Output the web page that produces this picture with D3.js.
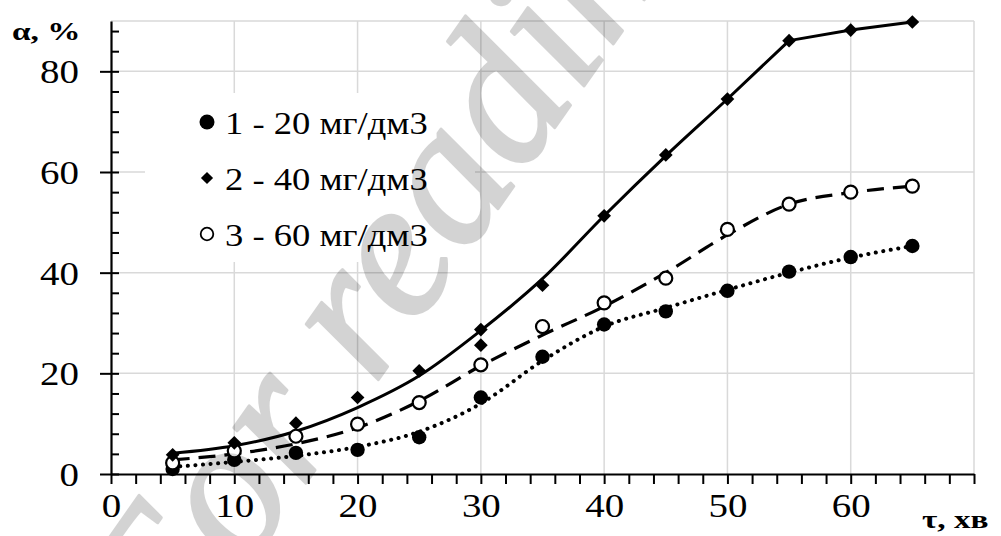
<!DOCTYPE html>
<html>
<head>
<meta charset="utf-8">
<script src="https://cdn.jsdelivr.net/npm/d3@7"></script>
<style>
  body { margin: 0; background: #fff; }
  svg { display: block; }
  text { font-family: "Liberation Serif", serif; fill: #000; }
</style>
</head>
<body>
<div id="chart"></div>
<script>
// measured points, tau in minutes, alpha in %
var tau = [5, 10, 15, 20, 25, 30, 35, 40, 45, 50, 55, 60, 65];
var alpha1 = [1.0, 2.8, 4.2, 4.8, 7.3, 15.2, 23.3, 29.7, 32.3, 36.4, 40.2, 43.1, 45.3];
var tau2 = [5, 10, 15, 20, 25, 30, 30, 35, 40, 45, 50, 55, 60, 65];
var alpha2 = [3.8, 6.2, 10.1, 15.2, 20.5, 28.7, 25.6, 37.5, 51.3, 63.4, 74.5, 86.1, 88.2, 89.8];
var alpha3 = [2.2, 4.6, 7.5, 9.9, 14.2, 21.7, 29.3, 34.0, 38.9, 48.6, 53.6, 56.0, 57.2];

// smoothed curves
var fit1 = [1.4, 2.4, 3.6, 5.4, 8.4, 14.0, 22.5, 29.3, 33.0, 36.6, 40.0, 43.0, 45.3];
var fit2 = [4.1, 5.6, 8.5, 13.2, 19.5, 28.5, 38.8, 51.3, 63.2, 74.5, 86.1, 88.2, 89.8];
var fit3 = [2.8, 4.0, 6.0, 9.2, 14.5, 21.5, 27.6, 33.3, 40.0, 47.5, 53.6, 55.9, 57.2];

var legendLabels = ["1 - 20 мг/дм3", "2 - 40 мг/дм3", "3 - 60 мг/дм3"];
var xTickLabels = [0, 10, 20, 30, 40, 50, 60];
var yTickLabels = [0, 20, 40, 60, 80];

var W = 1001, H = 536;
var margin = {top: 21, right: 27, bottom: 62, left: 111},
    width = W - margin.left - margin.right,
    height = H - margin.top - margin.bottom;

// the original text is a bit wider than it is tall
var sx = 1.18;

var svg = d3.select("#chart").append("svg")
    .attr("width", W)
    .attr("height", H);

var g = svg.append("g")
    .attr("transform", "translate(" + margin.left + "," + margin.top + ")");

var x = d3.scaleLinear().domain([0, 70]).range([0, width]);
var y = d3.scaleLinear().domain([0, 90]).range([height, 0]);

/** grid */
var gridColor = "#d9d9d9";
g.append("g").selectAll("line")
  .data(d3.range(10, 71, 10))
  .enter().append("line")
  .attr("x1", d => x(d)).attr("x2", d => x(d))
  .attr("y1", 0).attr("y2", height)
  .style("stroke", gridColor).style("stroke-width", 1.5);
g.append("g").selectAll("line")
  .data(d3.range(20, 91, 20).concat([90]))
  .enter().append("line")
  .attr("x1", 0).attr("x2", width)
  .attr("y1", d => y(d)).attr("y2", d => y(d))
  .style("stroke", gridColor).style("stroke-width", 1.5);

/** legend background hides grid */
g.append("rect")
  .attr("x", 34).attr("y", 72)
  .attr("width", 330).attr("height", 169)
  .style("fill", "#fff");

/** curves */
var pts = (xs, ys) => xs.map((d, i) => [d, ys[i]]);
var line = d3.line().x(d => x(d[0])).y(d => y(d[1]));

var curves = g.append("g").style("fill", "none").style("stroke", "#000");
curves.append("path")
  .attr("d", line.curve(d3.curveMonotoneX)(pts(tau, fit1)))
  .style("stroke-width", 4)
  .style("stroke-linecap", "round")
  .style("stroke-dasharray", "0.1,7.5");
curves.append("path")
  .attr("d", line.curve(d3.curveMonotoneX)(pts(tau, fit3)))
  .style("stroke-width", 3.2)
  .style("stroke-dasharray", "17,9");
// solid curve bends smoothly up to 55 min, then straight
curves.append("path")
  .attr("d", line.curve(d3.curveMonotoneX)(pts(tau.slice(0, 11), fit2.slice(0, 11))))
  .style("stroke-width", 3);
curves.append("path")
  .attr("d", line.curve(d3.curveLinear)(pts(tau.slice(10), fit2.slice(10))))
  .style("stroke-width", 3);

/** markers */
var diamond = d3.symbol().type(d3.symbolDiamond2);
g.append("g").selectAll("circle")
  .data(pts(tau, alpha1))
  .enter().append("circle")
  .attr("cx", d => x(d[0])).attr("cy", d => y(d[1]))
  .attr("r", 7.2)
  .style("fill", "#000");
g.append("g").selectAll("circle")
  .data(pts(tau, alpha3))
  .enter().append("circle")
  .attr("cx", d => x(d[0])).attr("cy", d => y(d[1]))
  .attr("r", 6.5)
  .style("fill", "#fff").style("stroke", "#000").style("stroke-width", 2.2);
g.append("g").selectAll("path")
  .data(pts(tau2, alpha2))
  .enter().append("path")
  .attr("d", diamond.size(120))
  .attr("transform", d => "translate(" + x(d[0]) + "," + y(d[1]) + ")")
  .style("fill", "#000");

/** axes */
var xAxis = d3.axisBottom(x)
    .tickValues(d3.range(0, 71, 2))
    .tickSize(10).tickSizeOuter(0).tickPadding(22)
    .tickFormat(d => xTickLabels.indexOf(d) > -1 ? d : "");
var gx = g.append("g")
    .attr("transform", "translate(0," + height + ")")
    .call(xAxis);

var yAxis = d3.axisLeft(y)
    .tickValues(yTickLabels)
    .tickSize(11).tickSizeOuter(0).tickPadding(21);
var gy = g.append("g").call(yAxis);

// inner minor ticks on the y axis
var gyIn = g.append("g").call(d3.axisRight(y)
    .tickValues(d3.range(0, 89, 4))
    .tickSize(8).tickSizeOuter(0).tickFormat(""));
gyIn.select(".domain").remove();

[gx, gy, gyIn].forEach(function(a) {
  a.attr("font-family", null);
  a.selectAll("line").style("stroke", "#000").style("stroke-width", 2);
  a.select(".domain").style("stroke", "#000").style("stroke-width", 2.2);
  a.selectAll("text")
    .style("font-family", "Liberation Serif")
    .style("font-size", "33px")
    .style("fill", "#000")
    .attr("transform", "scale(" + sx + ",1)");
});
gx.selectAll("text").attr("y", 20).attr("dy", "0.71em");
gy.selectAll("text").attr("x", -32 / sx).attr("dy", "0.35em");

/** axis titles */
svg.append("text")
  .attr("transform", "translate(12,40) scale(1.28,1)")
  .style("font-size", "26px").style("font-weight", "bold")
  .text("α, %");
svg.append("text")
  .attr("transform", "translate(922,528) scale(1.28,1)")
  .style("font-size", "26px").style("font-weight", "bold")
  .text("τ, хв");

/** legend */
var legend = svg.append("g").selectAll("g")
    .data(legendLabels)
    .enter().append("g")
    .attr("transform", (d, i) => "translate(207," + (122 + i * 56) + ")");
legend.append("text")
  .attr("transform", "translate(18,12) scale(" + sx + ",1)")
  .style("font-size", "31px")
  .text(d => d);
legend.filter((d, i) => i === 0).append("circle")
  .attr("r", 7.5).style("fill", "#000");
legend.filter((d, i) => i === 1).append("path")
  .attr("d", diamond.size(95)).style("fill", "#000");
legend.filter((d, i) => i === 2).append("circle")
  .attr("r", 6.3).style("fill", "#fff")
  .style("stroke", "#000").style("stroke-width", 1.8);

/** watermark, semi transparent over everything */
svg.append("text")
  .attr("transform", "translate(175,670) rotate(-55)")
  .style("font-family", "Liberation Serif")
  .style("font-size", "198px")
  .style("font-style", "italic")
  .style("fill", "#000")
  .style("stroke", "#000")
  .style("stroke-width", 3)
  .style("stroke-linejoin", "round")
  .style("opacity", 0.17)
  .text("For reading");
</script>
</body>
</html>
